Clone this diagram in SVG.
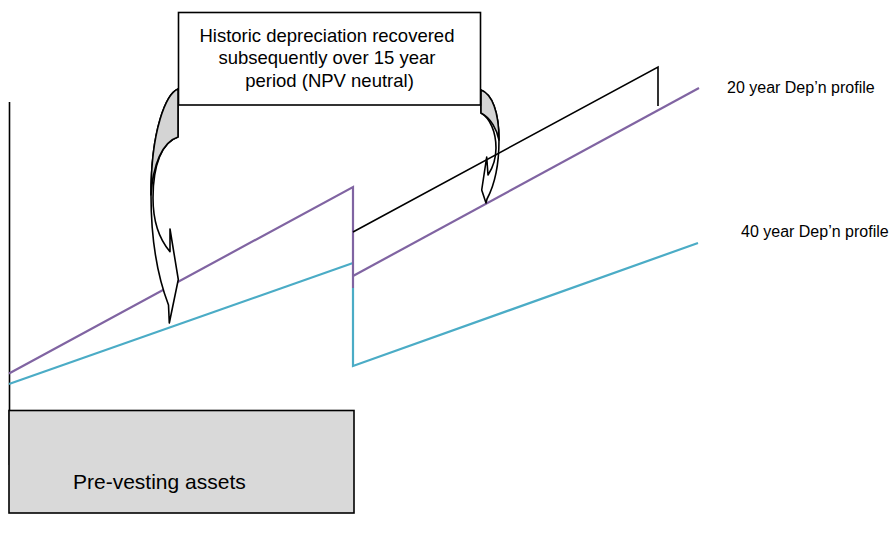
<svg xmlns="http://www.w3.org/2000/svg" width="891" height="533" viewBox="0 0 891 533">
  <style>
    .txt { font-family: "Liberation Sans", Arial, sans-serif; fill: #000; }
    .purple { stroke: #8064a2; stroke-width: 2.2; fill: none; }
    .cyan { stroke: #4bacc6; stroke-width: 2.2; fill: none; }
    .blk { stroke: #000; stroke-width: 1.6; fill: none; }
    .arrow { fill: #fff; stroke: #000; stroke-width: 1.6; stroke-linejoin: round; }
    .shade { fill: #d4d4d4; stroke: #000; stroke-width: 1.6; stroke-linejoin: round; }
  </style>
  <rect width="891" height="533" fill="#fff"/>

  <g id="axis">
    <line x1="9.5" y1="102" x2="9.5" y2="465" class="blk"/>
  </g>

  <g id="pre-vesting">
    <rect x="9" y="410.5" width="345" height="102.5" fill="#d9d9d9" stroke="#000" stroke-width="1.6"/>
    <text x="73" y="488.5" class="txt" font-size="21">Pre-vesting assets</text>
  </g>

  <g id="connectors">
    <polyline points="9,384 353,263" class="cyan"/>
    <polyline points="353,288 353,366 698,243" class="cyan"/>
    <polyline points="9,373.5 353,187 353,288" class="purple"/>
    <polyline points="353,276 699,88" class="purple"/>
  </g>

  <g id="right-arrow">
    <path class="arrow" d="M481,90 C492,94 499,112 499,140 C499,165 494,186 487,199 L486,203 L481.7,190 L486.7,157 L488,175 C494,166 496,155 496,148 C496,132 490,118 481,113 Z"/>
    <path class="shade" d="M481,90 C492,94 499,112 499,140 C497,130 491,118 481,113 Z"/>
  </g>

  <g id="total-line">
    <polyline points="353,232 658,67 658,106" class="blk"/>
  </g>

  <g id="note-box">
    <rect x="178.5" y="12.5" width="302" height="92.5" fill="#fff" stroke="#000" stroke-width="1.6"/>
    <text class="txt" font-size="18.5" text-anchor="middle">
      <tspan x="329.5" y="41.5">Historic depreciation recovered</tspan>
      <tspan x="329.5" y="64">subsequently over 15 year</tspan>
      <tspan x="329.5" y="86.5">period (NPV neutral)</tspan>
    </text>
  </g>

  <g id="left-arrow">
    <path class="arrow" d="M178,89 C166,94 151,130 151,195 C151,240 157,275 168.5,305 L169.3,323 L178.3,279.5 L170,229 L170,251.7 C160,240 153,222 153,198 C153,165 162,142 178,137 Z"/>
    <path class="shade" d="M178,89 C166,94 151,130 151,195 C153,165 162,142 178,137 Z"/>
  </g>

  <g id="label-20">
    <text x="727" y="93" class="txt" font-size="16">20 year Dep’n profile</text>
  </g>
  <g id="label-40">
    <text x="741" y="237" class="txt" font-size="16">40 year Dep’n profile</text>
  </g>
</svg>
